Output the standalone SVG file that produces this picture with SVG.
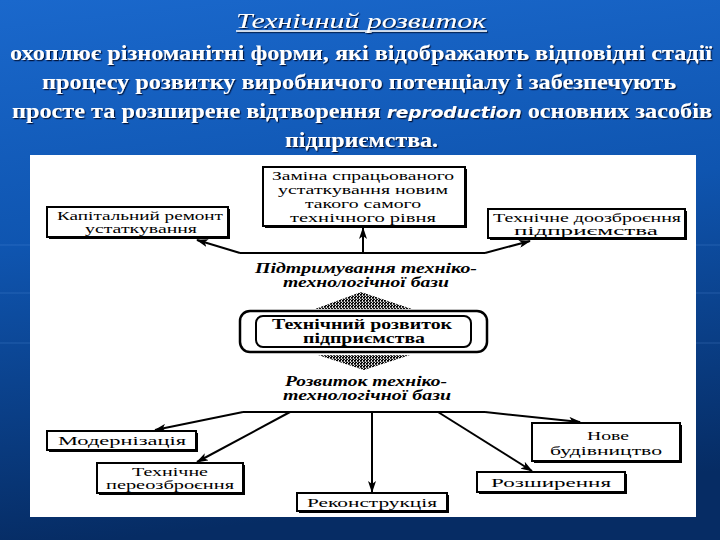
<svg xmlns="http://www.w3.org/2000/svg" width="720" height="540" viewBox="0 0 720 540">
<defs>
  <linearGradient id="bg" x1="0" y1="0" x2="0.15" y2="1">
    <stop offset="0" stop-color="#1a68cc"/>
    <stop offset="0.45" stop-color="#0f55b0"/>
    <stop offset="1" stop-color="#062c64"/>
  </linearGradient>
  <pattern id="hatch" width="3" height="3" patternUnits="userSpaceOnUse">
    <rect width="3" height="3" fill="#ddd"/>
    <rect width="2" height="1" fill="#000"/>
    <rect x="1" y="2" width="2" height="1" fill="#111"/>
    <rect x="0" y="1" width="2" height="1" fill="#444"/>
  </pattern>
  <filter id="sh" x="-5%" y="-20%" width="110%" height="150%">
    <feDropShadow dx="1.2" dy="1.2" stdDeviation="0.6" flood-color="#001030" flood-opacity="0.9"/>
  </filter>
  <marker id="ah" viewBox="0 0 12 8" refX="11" refY="4" markerWidth="12" markerHeight="8" markerUnits="userSpaceOnUse" orient="auto">
    <path d="M0,0 L12,4 L0,8 L3,4 z" fill="#000"/>
  </marker>
  <style>
    .hdr{fill:#fff;font-size:21px;font-weight:bold}
    .ttl{fill:#fff;font-size:22px;font-style:italic}
    .box{fill:#fff;stroke:#000;stroke-width:2}
    .sh{fill:#000}
    .t{font-size:12px;fill:#000;text-anchor:middle}
    .tb{font-size:14px;font-weight:bold;fill:#000;text-anchor:middle}
    .ti{font-size:14px;font-weight:bold;font-style:italic;fill:#000;text-anchor:middle}
    .ln{fill:none;stroke:#000;stroke-width:2}
    .ar{fill:none;stroke:#000;stroke-width:2;marker-end:url(#ah)}
    .grid{stroke:#6aa0e8;stroke-width:1;opacity:0.25}
  </style>
</defs>

<!-- background -->
<rect width="720" height="540" fill="url(#bg)"/>
<line class="grid" x1="0" y1="245" x2="30" y2="245"/>
<line class="grid" x1="0" y1="293" x2="30" y2="293"/>
<line class="grid" x1="0" y1="343" x2="30" y2="343"/>
<line class="grid" x1="696" y1="245" x2="720" y2="245"/>
<line class="grid" x1="696" y1="293" x2="720" y2="293"/>
<line class="grid" x1="696" y1="343" x2="720" y2="343"/>

<!-- header text -->
<g id="header" filter="url(#sh)" font-family="Liberation Serif, Times New Roman, serif">
  <text class="ttl" x="361" y="28" text-anchor="middle" textLength="250" lengthAdjust="spacingAndGlyphs">Технічний розвиток</text>
  <line x1="236" y1="31" x2="487" y2="31" stroke="#fff" stroke-width="1.3"/>
  <text class="hdr" x="10" y="60" textLength="702" lengthAdjust="spacingAndGlyphs">охоплює різноманітні форми, які відображають відповідні стадії</text>
  <text class="hdr" x="42" y="89" textLength="634" lengthAdjust="spacingAndGlyphs">процесу розвитку виробничого потенціалу і забезпечують</text>
  <text class="hdr" x="12" y="118" textLength="700" lengthAdjust="spacingAndGlyphs">просте та розширене відтворення <tspan font-family="DejaVu Sans, sans-serif" font-weight="bold" font-style="italic" font-size="16">reproduction</tspan> основних засобів</text>
  <text class="hdr" x="285" y="147" textLength="153" lengthAdjust="spacingAndGlyphs">підприємства.</text>
</g>

<!-- white panel -->
<rect x="30" y="155" width="666" height="362" fill="#fff"/>

<!-- connectors -->
<g id="connectors">
  <line class="ar" x1="363" y1="253" x2="363" y2="228"/>
  <polyline class="ln" points="240,253 485,253"/>
  <line class="ar" x1="240" y1="253" x2="197" y2="240"/>
  <line class="ar" x1="485" y1="253" x2="530" y2="241"/>
  <polyline class="ln" points="243,412 485,412"/>
  <line class="ar" x1="243" y1="412" x2="155" y2="430"/>
  <line class="ar" x1="290" y1="412" x2="197" y2="462"/>
  <line class="ar" x1="372" y1="412" x2="372" y2="492"/>
  <line class="ar" x1="438" y1="412" x2="532" y2="471"/>
  <line class="ar" x1="485" y1="412" x2="580" y2="422"/>
</g>

<g id="diagram" font-family="Liberation Serif, Times New Roman, serif">
<g id="n_zamina">
  <rect class="sh" x="265" y="169" width="202" height="59"/>
  <rect class="box" x="263" y="167" width="202" height="59"/>
  <text class="t" x="363" y="180" textLength="182" lengthAdjust="spacingAndGlyphs">Заміна спрацьованого</text>
  <text class="t" x="363" y="194" textLength="170" lengthAdjust="spacingAndGlyphs">устаткування новим</text>
  <text class="t" x="363" y="208" textLength="116" lengthAdjust="spacingAndGlyphs">такого самого</text>
  <text class="t" x="363" y="222" textLength="146" lengthAdjust="spacingAndGlyphs">технічного рівня</text>
</g>

<g id="n_kapremont">
  <rect class="sh" x="49" y="209" width="181" height="30"/>
  <rect class="box" x="47" y="207" width="181" height="30"/>
  <text class="t" x="140" y="220" textLength="166" lengthAdjust="spacingAndGlyphs">Капітальний ремонт</text>
  <text class="t" x="141" y="233" textLength="112" lengthAdjust="spacingAndGlyphs">устаткування</text>
</g>

<g id="n_doozbr">
  <rect class="sh" x="490" y="211" width="197" height="29"/>
  <rect class="box" x="488" y="209" width="197" height="29"/>
  <text class="t" x="587" y="222" textLength="188" lengthAdjust="spacingAndGlyphs">Технічне доозброєння</text>
  <text class="t" x="586" y="235" textLength="144" lengthAdjust="spacingAndGlyphs">підприємства</text>
</g>

<g id="lbl_top">
  <text class="ti" x="366" y="273" textLength="222" lengthAdjust="spacingAndGlyphs">Підтримування техніко-</text>
  <text class="ti" x="366" y="287" textLength="166" lengthAdjust="spacingAndGlyphs">технологічної бази</text>
</g>

<g id="n_center">
  <polygon points="361,292 412,309 315,309" fill="url(#hatch)"/>
  <rect x="240" y="311" width="247" height="41" rx="10" ry="10" fill="#fff" stroke="#000" stroke-width="2.5"/>
  <rect x="256" y="316" width="215" height="31" rx="7" ry="7" fill="none" stroke="#000" stroke-width="2"/>
  <text class="tb" x="362" y="329" textLength="180" lengthAdjust="spacingAndGlyphs">Технічний розвиток</text>
  <text class="tb" x="364" y="343" textLength="122" lengthAdjust="spacingAndGlyphs">підприємства</text>
  <polygon points="318,355 410,355 364,370" fill="url(#hatch)"/>
</g>

<g id="lbl_bottom">
  <text class="ti" x="366" y="386" textLength="162" lengthAdjust="spacingAndGlyphs">Розвиток техніко-</text>
  <text class="ti" x="367" y="400" textLength="168" lengthAdjust="spacingAndGlyphs">технологічної бази</text>
</g>

<g id="n_modern">
  <rect class="sh" x="49" y="433" width="149" height="19"/>
  <rect class="box" x="47" y="431" width="149" height="19"/>
  <text class="t" x="122" y="445" textLength="128" lengthAdjust="spacingAndGlyphs">Модернізація</text>
</g>

<g id="n_pereozbr">
  <rect class="sh" x="99" y="465" width="146" height="30"/>
  <rect class="box" x="97" y="463" width="146" height="30"/>
  <text class="t" x="170" y="476" textLength="76" lengthAdjust="spacingAndGlyphs">Технічне</text>
  <text class="t" x="170" y="489" textLength="128" lengthAdjust="spacingAndGlyphs">переозброєння</text>
</g>

<g id="n_rekonstr">
  <rect class="sh" x="299" y="495" width="150" height="18"/>
  <rect class="box" x="297" y="493" width="150" height="18"/>
  <text class="t" x="372" y="507" textLength="130" lengthAdjust="spacingAndGlyphs">Реконструкція</text>
</g>

<g id="n_rozshyr">
  <rect class="sh" x="479" y="474" width="148" height="20"/>
  <rect class="box" x="477" y="472" width="148" height="20"/>
  <text class="t" x="551" y="487" textLength="120" lengthAdjust="spacingAndGlyphs">Розширення</text>
</g>

<g id="n_nove">
  <rect class="sh" x="534" y="425" width="148" height="38"/>
  <rect class="box" x="532" y="423" width="148" height="38"/>
  <text class="t" x="608" y="440" textLength="42" lengthAdjust="spacingAndGlyphs">Нове</text>
  <text class="t" x="606" y="455" textLength="112" lengthAdjust="spacingAndGlyphs">будівництво</text>
</g>
</g>
</svg>
